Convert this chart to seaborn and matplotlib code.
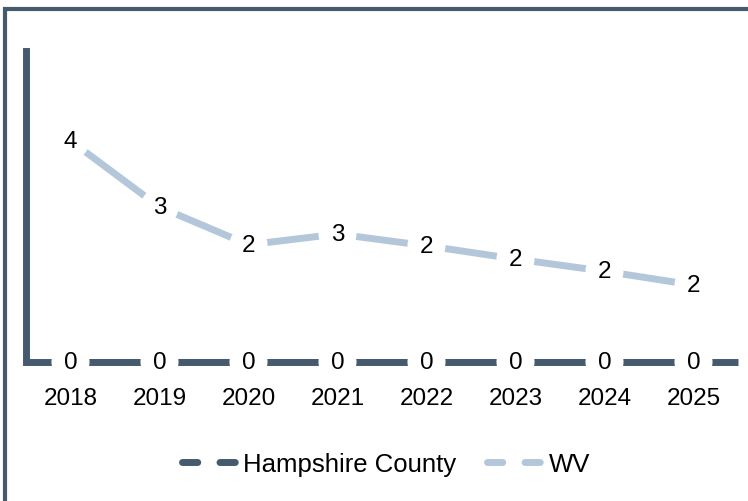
import numpy as np
import matplotlib
matplotlib.use("Agg")
import matplotlib.pyplot as plt
from matplotlib.lines import Line2D
from matplotlib.patches import Rectangle
import seaborn as sns
import pandas as pd

years = [2018, 2019, 2020, 2021, 2022, 2023, 2024, 2025]
hampshire = [0, 0, 0, 0, 0, 0, 0, 0]
wv = [4.34, 3.04, 2.30, 2.51, 2.28, 2.02, 1.78, 1.51]
series_names = ["Hampshire County", "WV"]

dark = "#465a6e"
light = "#b4c7da"

sns.set_theme(style="white")
plt.rcParams["font.family"] = ["Liberation Sans", "DejaVu Sans"]
plt.rcParams["lines.scale_dashes"] = False
plt.rcParams["text.color"] = "black"

df = pd.DataFrame({
    "year": years * 2,
    "value": hampshire + wv,
    "series": [series_names[0]] * len(years) + [series_names[1]] * len(years),
})

fig = plt.figure(figsize=(7.48, 5.02), dpi=100)
ax = fig.add_axes([26 / 748, 1 - 363 / 502, (738 - 26) / 748, (363 - 52) / 502])

sns.lineplot(data=df, x="year", y="value", hue="series",
             palette=[dark, light], linewidth=5, legend=False, ax=ax,
             zorder=2)

# data labels sit on the points, white circles break the line around them
for vals in (hampshire, wv):
    for x, v in zip(years, vals):
        ax.text(x, v, f"{v:.0f}", ha="center", va="center", fontsize=17.5,
                color="black", zorder=5,
                bbox=dict(boxstyle="circle,pad=0.33", fc="white", ec="none"))

ax.set_xlim(years[0] - 0.5, years[-1] + 0.5)
ax.set_ylim(0, 6.1)
ax.set_xticks(years)
ax.set_xticklabels([str(y) for y in years], fontsize=17.5)
ax.set_yticks([])
ax.set_xlabel("")
ax.set_ylabel("")
ax.tick_params(axis="x", length=0, pad=18, colors="black")

for s in ["top", "right"]:
    ax.spines[s].set_visible(False)
for s in ["left", "bottom"]:
    ax.spines[s].set_color(dark)
    ax.spines[s].set_linewidth(5)
    ax.spines[s].set_zorder(2)
ax.spines["bottom"].set_capstyle("butt")

handles = [
    Line2D([0], [0], color=dark, lw=5, dashes=(11, 16), solid_capstyle="round",
           dash_capstyle="round"),
    Line2D([0], [0], color=light, lw=5, dashes=(11, 16), solid_capstyle="round",
           dash_capstyle="round"),
]
fig.legend(handles, series_names, loc="center", ncol=2, frameon=False,
           bbox_to_anchor=(386 / 748, 1 - 465 / 502), fontsize=18.5,
           handlelength=2.4, handletextpad=0.0, columnspacing=1.2,
           labelcolor="black")

# outer frame, only its top and left edges fall inside the image
fig.add_artist(Rectangle((5 / 748, -0.5), 2, 0.5 + 1 - 9.5 / 502,
                         transform=fig.transFigure, fill=False,
                         ec=dark, lw=3, clip_on=False))

fig.savefig("out.png", dpi=100)
